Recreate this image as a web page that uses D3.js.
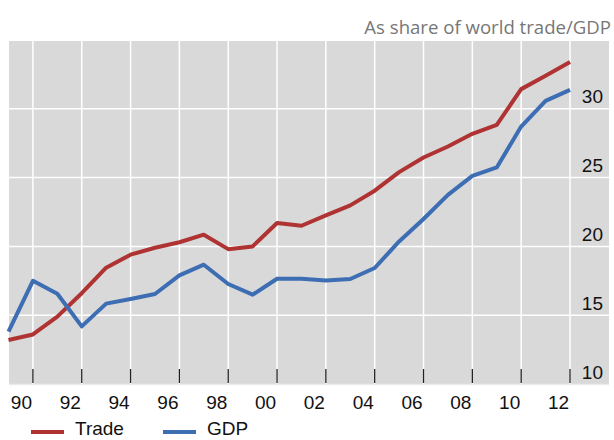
<!DOCTYPE html>
<html>
<head>
<meta charset="utf-8">
<script src="https://cdn.jsdelivr.net/npm/d3@7"></script>
<style>
    body { margin: 0; background: #fff; }
    svg { display: block; }
</style>
</head>
<body>
<svg id="drawing_region"></svg>
<script>
// data
const years = [1989, 1990, 1991, 1992, 1993, 1994, 1995, 1996, 1997, 1998, 1999, 2000,
               2001, 2002, 2003, 2004, 2005, 2006, 2007, 2008, 2009, 2010, 2011, 2012];
const trade = [13.2, 13.6, 14.9, 16.6, 18.45, 19.4, 19.9, 20.3, 20.85, 19.8, 20.0, 21.7,
               21.5, 22.25, 22.98, 24.05, 25.4, 26.46, 27.26, 28.18, 28.84, 31.43, 32.4, 33.4];
const gdp = [13.8, 17.5, 16.56, 14.19, 15.84, 16.18, 16.54, 17.9, 18.67, 17.27, 16.49, 17.65,
             17.65, 17.53, 17.63, 18.43, 20.36, 21.99, 23.75, 25.13, 25.74, 28.71, 30.58, 31.38];
const xticks = [1990, 1992, 1994, 1996, 1998, 2000, 2002, 2004, 2006, 2008, 2010, 2012];
const yticks = [10, 15, 20, 25, 30];
const seriesNames = ['Trade', 'GDP'];
const seriesColors = ['#b03333', '#3d6db3'];

const width = 614, height = 440;
const plot = {left: 9, right: 609, top: 41, bottom: 384};

const svg = d3.select('#drawing_region')
    .attr('width', width)
    .attr('height', height);

const xscale = d3.scaleLinear().domain([1989, 2012]).range([8.5, 570]);
const yscale = d3.scaleLinear().domain([10, 35]).range([384, 40]);

// background
svg.append('rect')
    .attr('x', plot.left).attr('y', plot.top)
    .attr('width', plot.right - plot.left).attr('height', plot.bottom - plot.top)
    .attr('fill', '#d9d9d9');

// grid
svg.append('g').selectAll('line').data(yticks.filter(d => d > 10)).join('line')
    .attr('x1', plot.left).attr('x2', plot.right)
    .attr('y1', d => yscale(d)).attr('y2', d => yscale(d))
    .attr('stroke', '#fff').attr('stroke-width', 1.5);

svg.append('g').selectAll('line').data(xticks).join('line')
    .attr('x1', d => xscale(d)).attr('x2', d => xscale(d))
    .attr('y1', plot.top).attr('y2', plot.bottom)
    .attr('stroke', '#fff').attr('stroke-width', 1.5);

// bottom axis line
svg.append('line')
    .attr('x1', plot.left).attr('x2', plot.right)
    .attr('y1', plot.bottom + 0.5).attr('y2', plot.bottom + 0.5)
    .attr('stroke', '#ececec').attr('stroke-width', 1.5);

// x axis: ticks inside, labels shifted half a year left
const xaxis = d3.axisBottom(xscale)
    .tickValues(xticks)
    .tickSize(0)
    .tickFormat(d => String(d % 100).padStart(2, '0'));

const xg = svg.append('g')
    .attr('transform', `translate(0, ${plot.bottom})`)
    .call(xaxis);
xg.select('.domain').remove();
xg.selectAll('.tick text')
    .attr('x', -12)
    .attr('y', 25)
    .attr('dy', 0)
    .attr('font-family', '"Liberation Sans", Arial, sans-serif')
    .attr('font-size', 19)
    .attr('fill', '#111');

svg.append('g').selectAll('line').data(xticks).join('line')
    .attr('x1', d => xscale(d)).attr('x2', d => xscale(d))
    .attr('y1', plot.bottom - 15).attr('y2', plot.bottom - 1)
    .attr('stroke', '#222').attr('stroke-width', 1.3);

// y axis labels on right, above grid lines
const yaxis = d3.axisRight(yscale)
    .tickValues(yticks)
    .tickSize(0);
const yg = svg.append('g')
    .attr('transform', `translate(603, 0)`)
    .call(yaxis);
yg.select('.domain').remove();
yg.selectAll('.tick text')
    .attr('x', 0)
    .attr('dy', -6)
    .attr('text-anchor', 'end')
    .attr('font-family', '"Liberation Sans", Arial, sans-serif')
    .attr('font-size', 19)
    .attr('fill', '#111');

// lines
const line = d3.line()
    .x((d, i) => xscale(years[i]))
    .y(d => yscale(d));

[trade, gdp].forEach((values, k) => {
    svg.append('path')
        .datum(values)
        .attr('d', line)
        .attr('fill', 'none')
        .attr('stroke', seriesColors[k])
        .attr('stroke-width', 4)
        .attr('stroke-linejoin', 'round');
});

// title
svg.append('text')
    .attr('x', 611).attr('y', 34)
    .attr('text-anchor', 'end')
    .attr('font-family', '"Open Sans", "Noto Sans", sans-serif')
    .attr('font-size', 18.6)
    .attr('fill', '#777')
    .text('As share of world trade/GDP');

// legend (kept just inside the bottom edge)
const legendX = [31, 163];
const legend = svg.append('g').selectAll('g').data(seriesNames).join('g')
    .attr('transform', (d, i) => `translate(${legendX[i]}, 432)`);
legend.append('line')
    .attr('x1', 0).attr('x2', 33)
    .attr('stroke', (d, i) => seriesColors[i])
    .attr('stroke-width', 4);
legend.append('text')
    .attr('x', 44).attr('y', 3)
    .attr('font-family', '"Liberation Sans", Arial, sans-serif')
    .attr('font-size', 19)
    .attr('fill', '#111')
    .text(d => d);
</script>
</body>
</html>
